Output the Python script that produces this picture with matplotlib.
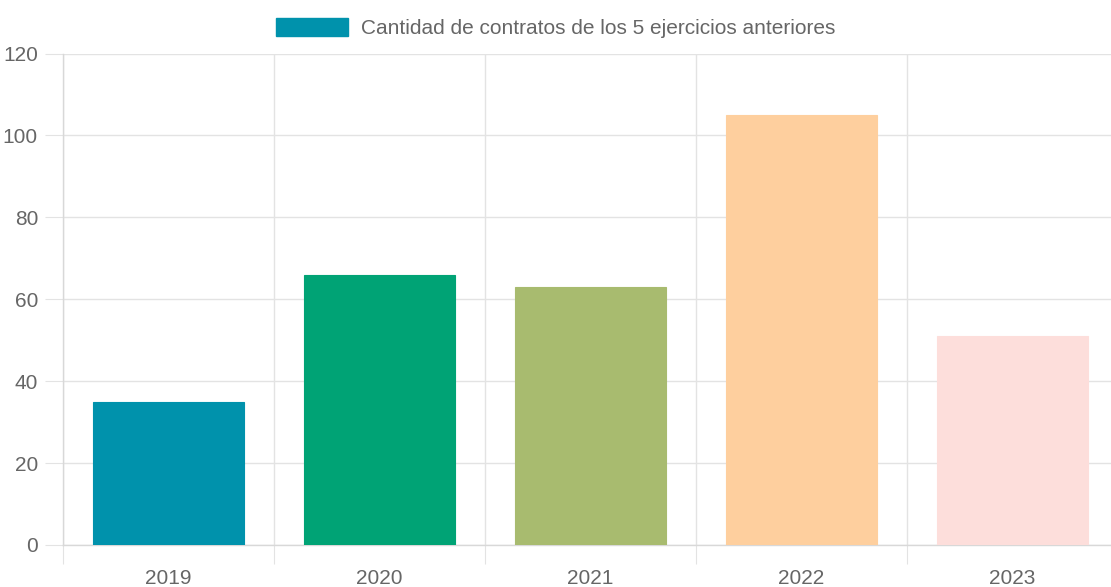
import matplotlib
matplotlib.use("Agg")
import matplotlib.pyplot as plt
from matplotlib.patches import Patch

years = ["2019", "2020", "2021", "2022", "2023"]
values = [35, 66, 63, 105, 51]
colors = ["#0092ac", "#00a375", "#a8bb6f", "#fecf9e", "#fddedb"]
legend_label = "Cantidad de contratos de los 5 ejercicios anteriores"

plt.rcParams['font.family'] = ['Liberation Sans', 'DejaVu Sans']
fig = plt.figure(figsize=(11.11, 5.87), dpi=100)
ax = fig.add_axes([63/1111, 42/587, 1055/1111, 491.5/587])

x = list(range(len(years)))
ax.bar(x, values, width=0.716, color=colors, edgecolor=[c for c in colors], linewidth=0.8, zorder=3)

ax.set_xlim(-0.5, 4.5)
ax.set_ylim(0, 120)
ax.set_yticks(range(0, 121, 20))
ax.set_xticks([i - 0.5 for i in range(6)], minor=False)
ax.set_xticklabels([])
ax.set_xticks(x, minor=True)
ax.set_xticklabels(years, minor=True)

grid_c = "#e3e3e3"
ax.grid(True, which="major", axis="both", color=grid_c, linewidth=1, zorder=0)
for s in ["top", "right"]:
    ax.spines[s].set_visible(False)
for s in ["left", "bottom"]:
    ax.spines[s].set_color("#d8d8d8")
    ax.spines[s].set_linewidth(1)

ax.tick_params(axis="y", which="major", length=13, color=grid_c, labelcolor="#666666", labelsize=15, pad=5)
ax.tick_params(axis="x", which="major", length=14, color=grid_c)
ax.tick_params(axis="x", which="minor", length=0, labelcolor="#666666", labelsize=15, pad=17)

handles = [Patch(facecolor=colors[0], edgecolor=colors[0])]
fig.legend(handles, [legend_label], loc="upper center", bbox_to_anchor=(0.5, 1.0),
           frameon=False, fontsize=15, handlelength=3.45, handleheight=1.0,
           handletextpad=0.62, labelcolor="#666666", borderaxespad=0.45)

fig.savefig("out.png", dpi=100, facecolor="white")
